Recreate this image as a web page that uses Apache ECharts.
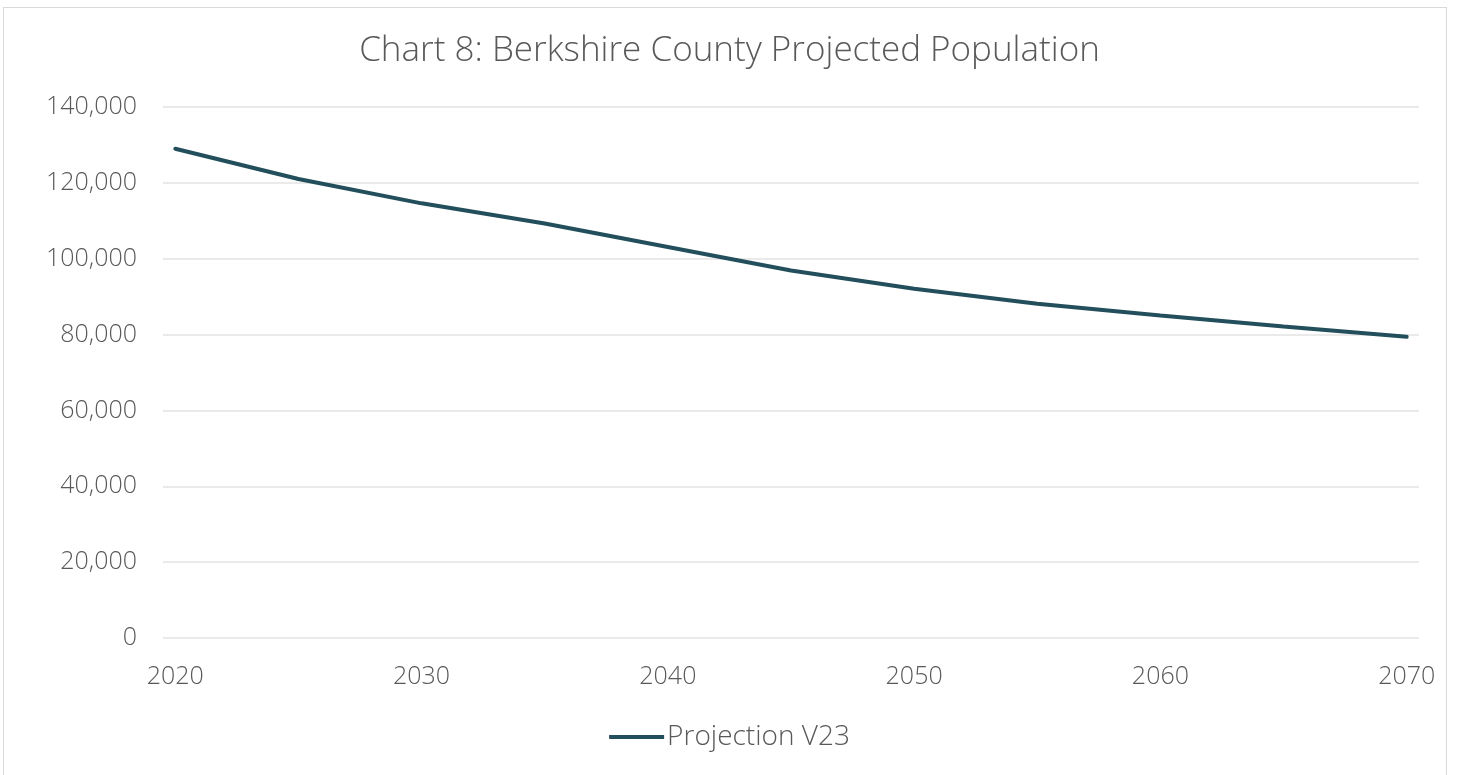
<!DOCTYPE html>
<html>
<head>
<meta charset="utf-8">
<script src="https://cdn.jsdelivr.net/npm/echarts@6/dist/echarts.min.js"></script>
<style>
  html, body { margin: 0; padding: 0; background: #fff; }
  #frame { position: absolute; left: 3px; top: 7px; width: 1444px; height: 780px; border: 1px solid #d9d9d9; box-sizing: border-box; }
  #chart { position: absolute; left: 0; top: 0; width: 1459px; height: 775px; }
</style>
</head>
<body>
<div id="frame"></div>
<div id="chart"></div>
<script>
const years = [2020, 2025, 2030, 2035, 2040, 2045, 2050, 2055, 2060, 2065, 2070];
const population = [129000, 121000, 114600, 109300, 103100, 96900, 92100, 88100, 85000, 82100, 79400];
const seriesName = 'Projection V23';
const titleText = 'Chart 8: Berkshire County Projected Population';

const textColor = '#595959';
const lineColor = '#234e5c';
const font = '"Open Sans", Lato, sans-serif';

const chart = echarts.init(document.getElementById('chart'));
chart.setOption({
  animation: false,
  title: {
    text: titleText,
    left: 'center',
    top: 29,
    textStyle: { color: textColor, fontSize: 35, fontWeight: 300, fontFamily: font }
  },
  legend: {
    bottom: 19,
    left: 'center',
    itemWidth: 55,
    itemHeight: 4,
    itemGap: 6,
    icon: 'rect',
    textStyle: { color: textColor, fontSize: 28, fontWeight: 300, fontFamily: font, padding: [0, 0, 0, -2] },
    data: [seriesName]
  },
  grid: { left: 163, right: 40, top: 107, bottom: 137 },
  xAxis: {
    type: 'value',
    min: 2019.5,
    max: 2070.5,
    interval: 0.5,
    axisLine: { show: false },
    axisTick: { show: false },
    splitLine: { show: false },
    axisLabel: {
      color: textColor,
      fontSize: 25,
      fontWeight: 300,
      fontFamily: font,
      margin: 26,
      formatter: v => (v % 10 === 0 ? String(v) : '')
    }
  },
  yAxis: {
    type: 'value',
    min: 0,
    max: 140000,
    interval: 20000,
    axisLine: { show: false },
    axisTick: { show: false },
    splitLine: { lineStyle: { color: '#e3e3e3', width: 1.5 } },
    axisLabel: {
      color: textColor,
      fontSize: 25,
      fontWeight: 300,
      fontFamily: font,
      margin: 26,
      formatter: v => v.toLocaleString('en-US')
    }
  },
  series: [{
    name: seriesName,
    type: 'line',
    data: years.map((y, i) => [y, population[i]]),
    showSymbol: false,
    itemStyle: { color: lineColor },
    lineStyle: { color: lineColor, width: 4, cap: 'round' }
  }]
});
</script>
</body>
</html>
